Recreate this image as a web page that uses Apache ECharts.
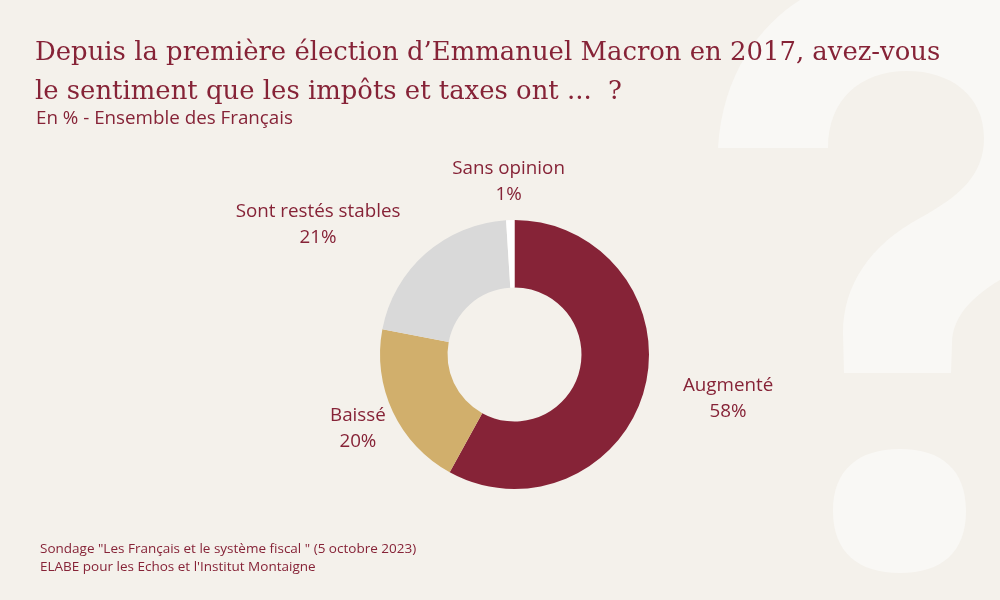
<!DOCTYPE html>
<html>
<head>
<meta charset="utf-8">
<style>
html, body { margin: 0; padding: 0; background: #f4f1eb; }
#chart { width: 1000px; height: 600px; }
</style>
<script src="https://cdn.jsdelivr.net/npm/echarts@6/dist/echarts.min.js"></script>
</head>
<body>
<div id="chart"></div>
<script>
const categories = ['Augmenté', 'Baissé', 'Sont restés stables', 'Sans opinion'];
const values = [58, 20, 21, 1];
const colors = ['#862337', '#d1af6c', '#d9d9d9', '#ffffff'];
const titleLines = [
	'Depuis la première élection d’Emmanuel Macron en 2017, avez-vous',
	'le sentiment que les impôts et taxes ont ...  ?',
];
const subtitle = 'En % - Ensemble des Français';
const sourceLines = [
	'Sondage "Les Français et le système fiscal " (5 octobre 2023)',
	"ELABE pour les Echos et l'Institut Montaigne",
];

const wine = '#862337';
const sans = '"Open Sans", "Noto Sans", sans-serif';
const serif = '"DejaVu Serif", serif';

// the big pale question mark behind everything
const questionMark = 'M718 148 C722 75 760 25 800 0 L1000 0 L1000 280 C975 295 952 315 952 344 L951 373 L844 373 L843 333 C843 285 870 245 920 218 C960 196 984 175 984 138 C984 95 950 71 907 71 C860 71 828 100 828 148 Z '
	+ 'M833 511 C833 470 858 449 900 449 C942 449 966 470 966 511 C966 552 942 573 900 573 C858 573 833 552 833 511 Z';

// nudges to land the outside labels where the reference has them
const labelNudge = [[57, 5], [-10, 8], [-88, -12], [4, -16]];

const myChart = echarts.init(document.getElementById('chart'), null, {renderer: 'canvas'});

function textEl(text, left, top, font) {
	return {type: 'text', z: 10, left: left, top: top, style: {text: text, fill: wine, font: font}};
}

myChart.setOption({
	backgroundColor: '#f4f1eb',
	animation: false,
	graphic: [
		textEl(titleLines[0], 35, 40, '25.9px ' + serif),
		textEl(titleLines[1], 35, 79, '25.9px ' + serif),
		textEl(subtitle, 36, 109, '18.8px ' + sans),
		textEl(sourceLines[0], 40, 542, '13.5px ' + sans),
		textEl(sourceLines[1], 40, 560, '13.5px ' + sans),
	],
	series: [
		{
			type: 'custom',
			coordinateSystem: 'none',
			silent: true,
			z: 0,
			data: [0],
			renderItem: function () {
				return {
					type: 'path',
					shape: {pathData: questionMark},
					style: {fill: '#f9f8f5'},
				};
			},
		},
		{
			type: 'pie',
			z: 2,
			center: [514.5, 354.5],
			radius: [67, 134.5],
			startAngle: 90,
			clockwise: true,
			silent: true,
			avoidLabelOverlap: false,
			data: categories.map(function (name, i) {
				return {name: name, value: values[i], itemStyle: {color: colors[i]}};
			}),
			label: {
				show: true,
				position: 'outside',
				formatter: '{b}\n{c}%',
				color: wine,
				fontFamily: sans,
				fontSize: 18.8,
				lineHeight: 26,
			},
			labelLine: {show: false, length: 22, length2: 0},
			labelLayout: function (params) {
				const n = labelNudge[params.dataIndex];
				return {dx: n[0], dy: n[1], align: 'center'};
			},
		},
	],
});
</script>
</body>
</html>
